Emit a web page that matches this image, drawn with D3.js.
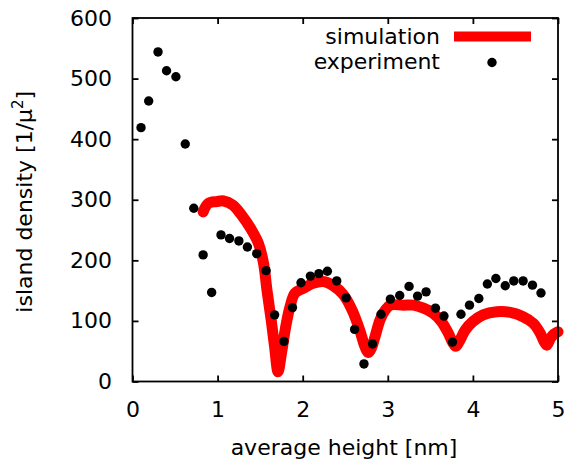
<!DOCTYPE html>
<html>
<head>
<meta charset="utf-8">
<script src="https://cdn.jsdelivr.net/npm/d3@7"></script>
<style>
  html, body { margin: 0; padding: 0; background: #fff; }
  svg { display: block; }
  text { font-family: "DejaVu Sans", sans-serif; fill: #000; }
</style>
</head>
<body>
<svg id="chart" width="564" height="462"></svg>
<script>
// ---- data ----
const xTicks = [0, 1, 2, 3, 4, 5];
const yTicks = [0, 100, 200, 300, 400, 500, 600];

const expX = [0.10,0.19,0.30,0.40,0.51,0.62,0.72,0.83,0.93,1.04,1.14,1.25,1.35,1.46,1.57,
              1.67,1.78,1.88,1.98,2.09,2.19,2.29,2.40,2.51,2.61,2.72,2.82,2.92,3.03,3.14,
              3.25,3.35,3.45,3.56,3.66,3.76,3.86,3.96,4.07,4.17,4.27,4.38,4.48,4.59,4.70,4.80];
const expY = [419,463,544,513,503,392,286,209,147,242,236,232,222,211,183,
              110,66,122,163,174,178,182,166,138,86,29,62,111,136,142,
              157,141,148,121,108,65,111,126,137,161,170,158,166,166,159,146];

const simX = [0.83,0.89,0.99,1.07,1.18,1.28,1.40,1.48,1.54,1.58,1.63,1.67,1.71,1.75,1.80,
              1.85,1.91,2.01,2.12,2.24,2.36,2.48,2.58,2.67,2.73,2.77,2.81,2.85,2.91,2.97,
              3.03,3.18,3.30,3.42,3.53,3.63,3.71,3.76,3.80,3.84,3.91,4.00,4.12,4.28,4.44,
              4.59,4.71,4.79,4.84,4.87,4.91,4.95,5.00];
const simY = [280,294,297,298,291,275,250,228,195,151,101,57,16,46,90,
              123,146,154,162,165,158,143,118,85,58,48,56,74,102,118,
              126,126,126,121,113,99,80,65,58,66,85,99,110,115,114,
              107,96,80,65,60,71,78,82];

const legendLabels = ["simulation", "experiment"];

// ---- layout ----
const svg = d3.select("#chart");
const L = 132.5, R = 558, T = 18, B = 381.5;
const x = d3.scaleLinear().domain([0, 5]).range([L, R]);
const y = d3.scaleLinear().domain([0, 600]).range([B, T]);
const fs = 22;

// simulation curve
const sim = simX.map((v, i) => [v, simY[i]]);
svg.append("path")
  .datum(sim)
  .attr("fill", "none")
  .attr("stroke", "#ff0000")
  .attr("stroke-width", 11)
  .attr("stroke-linejoin", "round")
  .attr("stroke-linecap", "round")
  .attr("d", d3.line().x(d => x(d[0])).y(d => y(d[1])).curve(d3.curveCatmullRom.alpha(0.5)));

// experiment points
const exp = expX.map((v, i) => [v, expY[i]]);
svg.append("g").selectAll("circle")
  .data(exp).enter().append("circle")
  .attr("cx", d => x(d[0]))
  .attr("cy", d => y(d[1]))
  .attr("r", 4.7)
  .attr("fill", "#000");

// axes (gnuplot style: inward ticks, mirrored)
const tl = 6;
const axB = svg.append("g").attr("transform", `translate(0,${B})`)
  .call(d3.axisBottom(x).tickValues(xTicks).tickSize(-tl).tickPadding(20).tickFormat(d3.format("d")));
const axT = svg.append("g").attr("transform", `translate(0,${T})`)
  .call(d3.axisTop(x).tickValues(xTicks).tickSize(-tl).tickFormat(""));
const axL = svg.append("g").attr("transform", `translate(${L},0)`)
  .call(d3.axisLeft(y).tickValues(yTicks).tickSize(-tl).tickPadding(20.5).tickFormat(d3.format("d")));
const axR = svg.append("g").attr("transform", `translate(${R},0)`)
  .call(d3.axisRight(y).tickValues(yTicks).tickSize(-tl).tickFormat(""));
[axB, axT, axL, axR].forEach(g => {
  g.select(".domain").remove();
  g.selectAll(".tick line").attr("stroke", "#000").attr("stroke-width", 1.8);
  g.selectAll("text").attr("font-size", fs).attr("font-family", "DejaVu Sans, sans-serif");
});

// frame
svg.append("rect")
  .attr("x", L).attr("y", T).attr("width", R - L).attr("height", B - T)
  .attr("fill", "none").attr("stroke", "#000").attr("stroke-width", 1.8);

// axis titles
svg.append("text")
  .attr("x", 344).attr("y", 455)
  .attr("text-anchor", "middle").attr("font-size", fs)
  .text("average height [nm]");

const yl = svg.append("text")
  .attr("transform", `translate(32,${(T + B) / 2 + 2}) rotate(-90)`)
  .attr("text-anchor", "middle").attr("font-size", fs);
yl.append("tspan").text("island density [1/μ");
yl.append("tspan").attr("font-size", 15).attr("baseline-shift", "super").text("2");
yl.append("tspan").text("]");

// legend
svg.append("text").attr("x", 440).attr("y", 43.5).attr("text-anchor", "end")
  .attr("font-size", fs).text(legendLabels[0]);
svg.append("line")
  .attr("x1", 454).attr("x2", 531).attr("y1", 36.5).attr("y2", 36.5)
  .attr("stroke", "#ff0000").attr("stroke-width", 10);
svg.append("text").attr("x", 440).attr("y", 68.5).attr("text-anchor", "end")
  .attr("font-size", fs).text(legendLabels[1]);
svg.append("circle").attr("cx", 492).attr("cy", 62.5).attr("r", 4.7).attr("fill", "#000");
</script>
</body>
</html>
